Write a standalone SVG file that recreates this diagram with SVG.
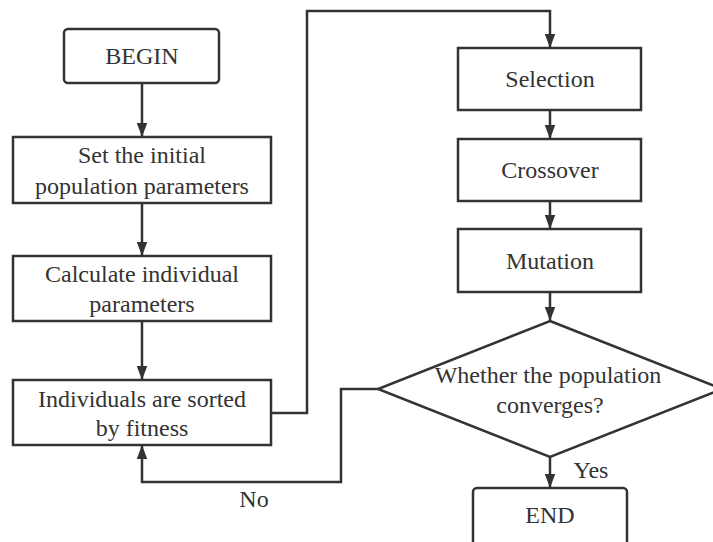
<svg xmlns="http://www.w3.org/2000/svg" width="713" height="542" viewBox="0 0 713 542">
<defs>
<marker id="ah" markerUnits="userSpaceOnUse" markerWidth="14" markerHeight="18" refX="16" refY="6" orient="auto" viewBox="0 0 16 12">
<path d="M0,0 L16,6 L0,12 Z" fill="#333"/>
</marker>
</defs>
<rect width="713" height="542" fill="#fff"/>
<g id="connectors" fill="none" stroke="#333" stroke-width="2.5">
<line x1="142" y1="83" x2="142" y2="137" marker-end="url(#ah)"/>
<line x1="142" y1="203" x2="142" y2="256" marker-end="url(#ah)"/>
<line x1="142" y1="321" x2="142" y2="380" marker-end="url(#ah)"/>
<polyline points="271,413 307,413 307,11 550,11 550,48" marker-end="url(#ah)"/>
<line x1="550" y1="110" x2="550" y2="139" marker-end="url(#ah)"/>
<line x1="550" y1="201" x2="550" y2="229" marker-end="url(#ah)"/>
<line x1="550" y1="292" x2="550" y2="321" marker-end="url(#ah)"/>
<line x1="550" y1="457" x2="550" y2="488" marker-end="url(#ah)"/>
<polyline points="378,389 341,389 341,482 142,482 142,445" marker-end="url(#ah)"/>
</g>
<g id="labels">
<text x="591" y="478" font-family="Liberation Serif" font-size="24" fill="#333" text-anchor="middle">Yes</text>
<text x="254" y="507" font-family="Liberation Serif" font-size="24" fill="#333" text-anchor="middle">No</text>
</g>
<g id="begin">
<rect x="64" y="29" width="155" height="54" rx="4" fill="#fff" stroke="#333" stroke-width="2.5"/>
<text x="142" y="64" font-family="Liberation Serif" font-size="24" fill="#333" text-anchor="middle">BEGIN</text>
</g>
<g id="set">
<rect x="13" y="137" width="258" height="66" fill="#fff" stroke="#333" stroke-width="2.5"/>
<text x="142" y="163" font-family="Liberation Serif" font-size="24" fill="#333" text-anchor="middle">Set the initial</text>
<text x="142" y="194" font-family="Liberation Serif" font-size="24" fill="#333" text-anchor="middle">population parameters</text>
</g>
<g id="calc">
<rect x="13" y="256" width="258" height="65" fill="#fff" stroke="#333" stroke-width="2.5"/>
<text x="142" y="282" font-family="Liberation Serif" font-size="24" fill="#333" text-anchor="middle">Calculate individual</text>
<text x="142" y="312" font-family="Liberation Serif" font-size="24" fill="#333" text-anchor="middle">parameters</text>
</g>
<g id="sort">
<rect x="13" y="380" width="258" height="65" fill="#fff" stroke="#333" stroke-width="2.5"/>
<text x="142" y="407" font-family="Liberation Serif" font-size="24" fill="#333" text-anchor="middle">Individuals are sorted</text>
<text x="142" y="436" font-family="Liberation Serif" font-size="24" fill="#333" text-anchor="middle">by fitness</text>
</g>
<g id="selection">
<rect x="458" y="48" width="183" height="62" fill="#fff" stroke="#333" stroke-width="2.5"/>
<text x="550" y="87" font-family="Liberation Serif" font-size="24" fill="#333" text-anchor="middle">Selection</text>
</g>
<g id="crossover">
<rect x="458" y="139" width="183" height="62" fill="#fff" stroke="#333" stroke-width="2.5"/>
<text x="550" y="178" font-family="Liberation Serif" font-size="24" fill="#333" text-anchor="middle">Crossover</text>
</g>
<g id="mutation">
<rect x="458" y="229" width="183" height="63" fill="#fff" stroke="#333" stroke-width="2.5"/>
<text x="550" y="269" font-family="Liberation Serif" font-size="24" fill="#333" text-anchor="middle">Mutation</text>
</g>
<g id="decision">
<polygon points="550,321 722,389 550,457 378,389" fill="#fff" stroke="#333" stroke-width="2.5"/>
<text x="548" y="383" font-family="Liberation Serif" font-size="24" fill="#333" text-anchor="middle">Whether the population</text>
<text x="550" y="413" font-family="Liberation Serif" font-size="24" fill="#333" text-anchor="middle">converges?</text>
</g>
<g id="end">
<rect x="473" y="488" width="154" height="60" rx="4" fill="#fff" stroke="#333" stroke-width="2.5"/>
<text x="550" y="523" font-family="Liberation Serif" font-size="24" fill="#333" text-anchor="middle">END</text>
</g>
</svg>
